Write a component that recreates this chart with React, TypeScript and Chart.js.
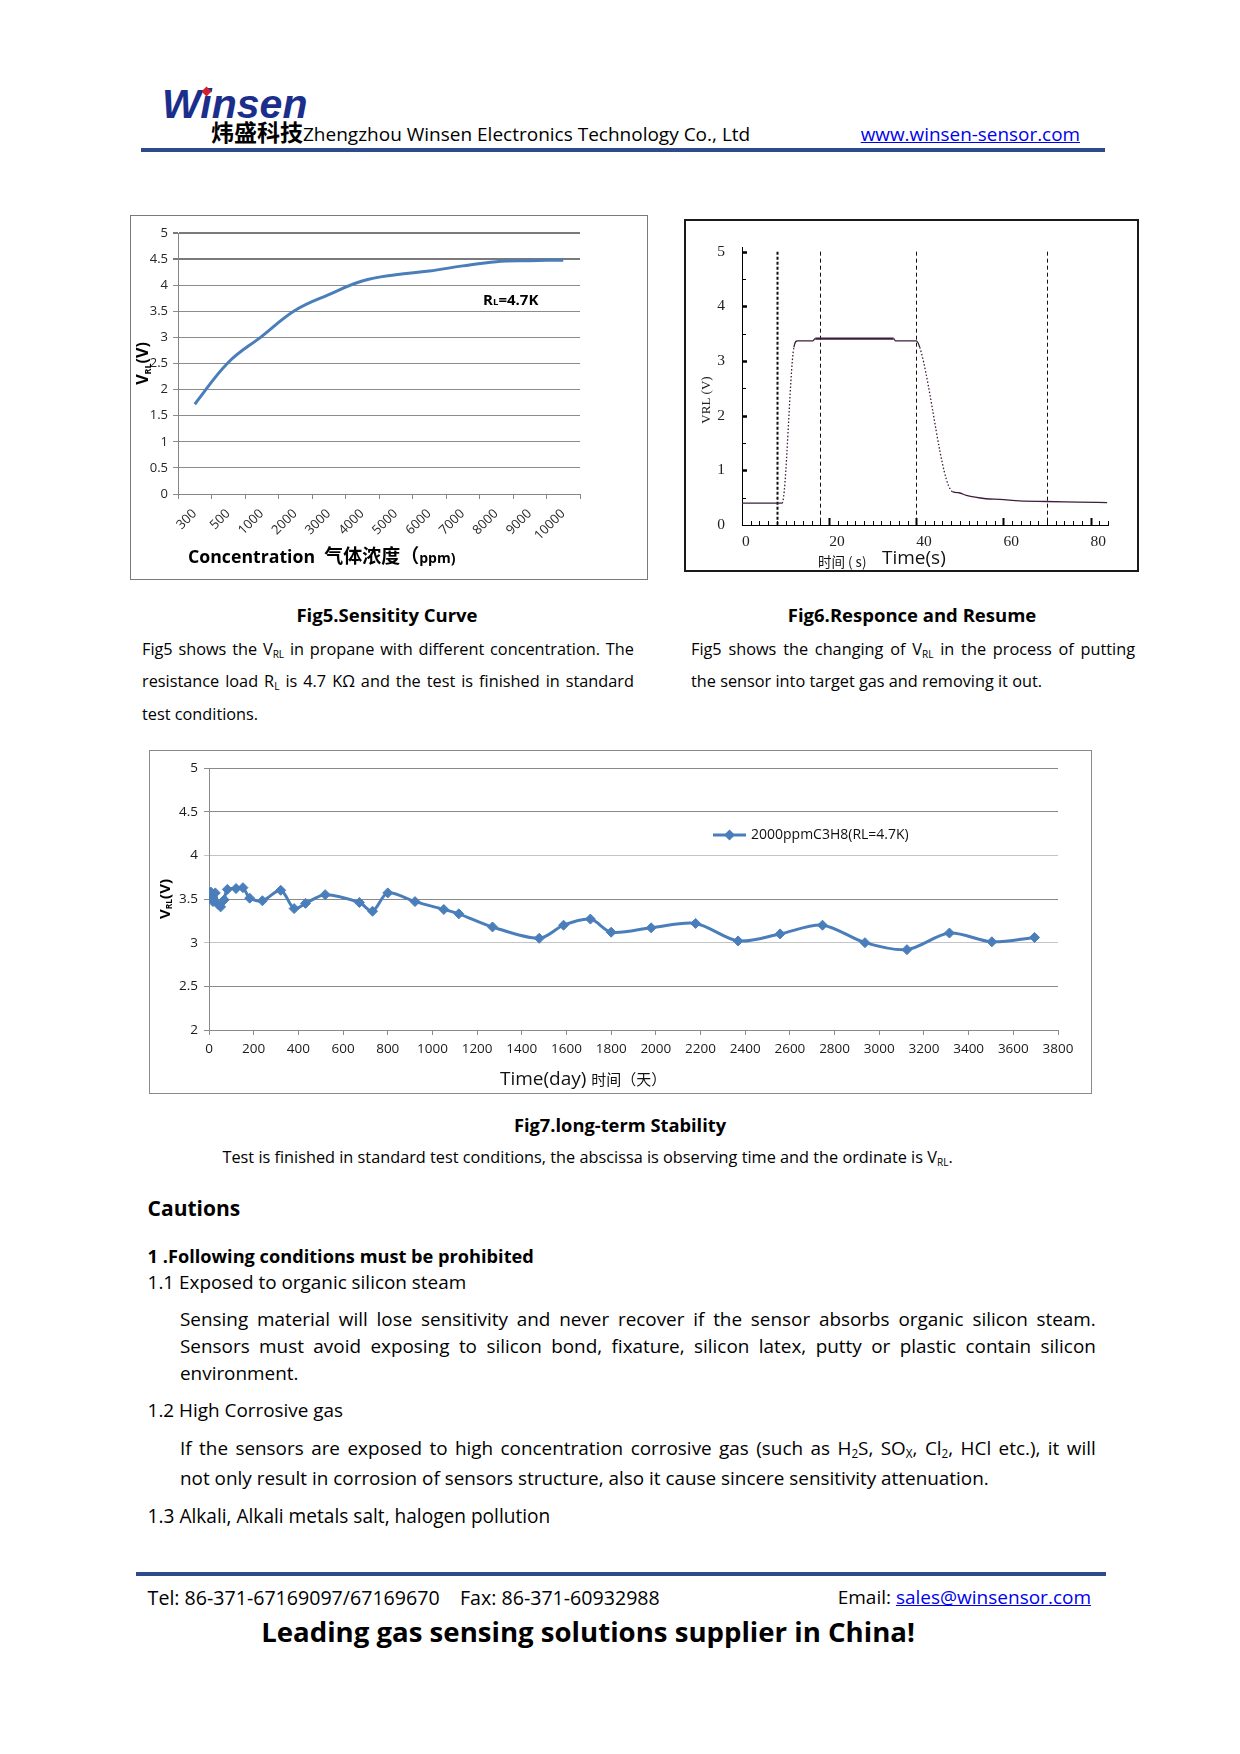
import React, { useEffect, useRef } from 'react';
import { Chart, registerables } from 'chart.js';

Chart.register(...registerables);

const SANS = '"Open Sans", "Noto Sans CJK SC", sans-serif';
const CJK = '"Noto Sans CJK SC", "Open Sans", sans-serif';
const SERIF = '"Liberation Serif", "DejaVu Serif", serif';
const LINE_BLUE = '#4a7ebb';

// ---------- Fig5 : sensitivity curve ----------
const concentrationLabels = ['300', '500', '1000', '2000', '3000', '4000', '5000', '6000', '7000', '8000', '9000', '10000'];
const sensitivityVoltage = [1.72, 2.52, 3.02, 3.52, 3.82, 4.08, 4.2, 4.27, 4.37, 4.45, 4.47, 4.48];

// ---------- Fig6 : response and resume ----------
const responseTime = [0, 9.2, 11.9, 12.7, 16.3, 16.8, 34.8, 35.2, 40, 40.8, 48.3, 49.8, 51.5, 56, 59.2, 63.7, 69.8, 77.1, 83.8];
const responseVoltage = [0.4, 0.4, 3.25, 3.37, 3.37, 3.41, 3.41, 3.37, 3.37, 3.25, 0.61, 0.59, 0.54, 0.48, 0.47, 0.44, 0.43, 0.42, 0.41];
const gasEventTimes = [8, 18, 40, 70];

// ---------- Fig7 : long-term stability ----------
const stabilityLabel = '2000ppmC3H8(RL=4.7K)';
const stabilityDays = [0, 8, 18, 28, 40, 52, 68, 82, 121, 152, 182, 239, 321, 381, 432, 520, 673, 732, 800, 922, 1051, 1118, 1269, 1478, 1587, 1707, 1800, 1979, 2178, 2368, 2556, 2746, 2936, 3124, 3314, 3504, 3695];
const stabilityVoltage = [3.5, 3.58, 3.47, 3.57, 3.44, 3.41, 3.49, 3.61, 3.62, 3.63, 3.51, 3.48, 3.6, 3.39, 3.45, 3.55, 3.46, 3.36, 3.57, 3.47, 3.38, 3.33, 3.18, 3.05, 3.2, 3.27, 3.12, 3.17, 3.22, 3.02, 3.1, 3.2, 3.0, 2.92, 3.11, 3.01, 3.06];

type Run = { t: string; size: number; bold?: boolean; family?: string; dy?: number };

function runFont(r: Run) {
  return `${r.bold ? 'bold ' : ''}${r.size}px ${r.family || SANS}`;
}

function drawRuns(ctx: any, runs: Run[], x: number, y: number, opts: { align?: string; rotate?: number; color?: string } = {}) {
  ctx.save();
  ctx.translate(x, y);
  if (opts.rotate) ctx.rotate(opts.rotate);
  ctx.fillStyle = opts.color || '#000';
  ctx.textBaseline = 'alphabetic';
  ctx.textAlign = 'left';
  let total = 0;
  const widths = runs.map((r) => {
    ctx.font = runFont(r);
    const w = ctx.measureText(r.t).width;
    total += w;
    return w;
  });
  let cx = opts.align === 'center' ? -total / 2 : 0;
  runs.forEach((r, i) => {
    ctx.font = runFont(r);
    ctx.fillText(r.t, cx, r.dy || 0);
    cx += widths[i];
  });
  ctx.restore();
}

const fig5Decor = {
  id: 'fig5Decor',
  afterDraw(chart: any) {
    const ctx = chart.ctx;
    const a = chart.chartArea;
    drawRuns(ctx, [
      { t: 'V', size: 16, bold: true },
      { t: 'RL', size: 9, bold: true, dy: 3 },
      { t: '(V)', size: 16, bold: true },
    ], 17, (a.top + a.bottom) / 2, { align: 'center', rotate: -Math.PI / 2 });
    drawRuns(ctx, [
      { t: 'Concentration  ', size: 17.7, bold: true },
      { t: '气体浓度（', size: 19, bold: true, family: CJK },
      { t: 'ppm)', size: 14, bold: true },
    ], 57, 347);
    drawRuns(ctx, [
      { t: 'R', size: 15, bold: true },
      { t: 'L', size: 9.5, bold: true },
      { t: '=4.7K', size: 15, bold: true },
    ], a.left + 0.759 * (a.right - a.left), 89);
  },
};

const fig6Decor = {
  id: 'fig6Decor',
  beforeDatasetsDraw(chart: any) {
    const { ctx } = chart;
    const x = chart.scales.x;
    const y = chart.scales.y;
    ctx.save();
    ctx.strokeStyle = '#111';
    gasEventTimes.forEach((t, i) => {
      const px = Math.round(x.getPixelForValue(t)) + 0.5;
      ctx.lineWidth = i === 0 ? 2 : 1;
      ctx.setLineDash(i === 0 ? [3, 2] : [4, 3]);
      ctx.beginPath();
      ctx.moveTo(px, y.getPixelForValue(5));
      ctx.lineTo(px, y.bottom);
      ctx.stroke();
    });
    ctx.setLineDash([]);
    ctx.strokeStyle = '#000';
    for (let v = 2; v <= x.max; v += 2) {
      const major = v % 20 === 0;
      const px = Math.round(x.getPixelForValue(v)) + 0.5;
      ctx.lineWidth = major ? 2 : 1;
      ctx.beginPath();
      ctx.moveTo(px, y.bottom);
      ctx.lineTo(px, y.bottom - (major ? 7 : 4));
      ctx.stroke();
    }
    for (let v = 0.5; v <= 5; v += 0.5) {
      const major = Number.isInteger(v);
      const py = Math.round(y.getPixelForValue(v)) + 0.5;
      ctx.lineWidth = major ? 2.5 : 1;
      ctx.beginPath();
      ctx.moveTo(x.left, py);
      ctx.lineTo(x.left + (major ? 5 : 4), py);
      ctx.stroke();
    }
    ctx.restore();
  },
  afterDraw(chart: any) {
    const ctx = chart.ctx;
    drawRuns(ctx, [{ t: 'VRL (V)', size: 13, family: SERIF }], 24, 179, { align: 'center', rotate: -Math.PI / 2, color: '#222' });
    drawRuns(ctx, [{ t: '时间 ( s)', size: 13.5, family: CJK }], 132, 346, { color: '#111' });
    drawRuns(ctx, [{ t: 'Time(s)', size: 19 }], 196, 343, { color: '#111' });
  },
};

const fig7Decor = {
  id: 'fig7Decor',
  afterDraw(chart: any) {
    const ctx = chart.ctx;
    const a = chart.chartArea;
    drawRuns(ctx, [
      { t: 'V', size: 15, bold: true },
      { t: 'RL', size: 8.5, bold: true, dy: 2 },
      { t: '(V)', size: 15, bold: true },
    ], 19.5, (a.top + a.bottom) / 2, { align: 'center', rotate: -Math.PI / 2 });
    drawRuns(ctx, [{ t: 'Time(day) ', size: 19 }, { t: '时间（天）', size: 15, family: CJK }], 350, 334, { color: '#111' });
    // legend
    const ds = chart.data.datasets[0];
    const ly = 84;
    const lx0 = 563;
    const lx1 = 596;
    ctx.save();
    ctx.strokeStyle = ds.borderColor;
    ctx.lineWidth = 3;
    ctx.beginPath();
    ctx.moveTo(lx0, ly);
    ctx.lineTo(lx1, ly);
    ctx.stroke();
    ctx.fillStyle = ds.borderColor;
    const cx = (lx0 + lx1) / 2;
    ctx.beginPath();
    ctx.moveTo(cx, ly - 5.5);
    ctx.lineTo(cx + 5.5, ly);
    ctx.lineTo(cx, ly + 5.5);
    ctx.lineTo(cx - 5.5, ly);
    ctx.closePath();
    ctx.fill();
    ctx.fillStyle = '#111';
    ctx.font = `14px ${SANS}`;
    ctx.textBaseline = 'middle';
    ctx.fillText(ds.label, 601, ly);
    ctx.restore();
  },
};

function makeFig5(): any {
  return {
    type: 'line',
    data: {
      labels: concentrationLabels,
      datasets: [{ data: sensitivityVoltage, borderColor: LINE_BLUE, borderWidth: 3, pointRadius: 0, tension: 0.4, fill: false }],
    },
    options: {
      responsive: false,
      animation: false,
      devicePixelRatio: 1,
      layout: { padding: { top: 17, right: 67, left: 0, bottom: 0 } },
      plugins: { legend: { display: false }, tooltip: { enabled: false } },
      scales: {
        x: {
          type: 'category',
          offset: true,
          grid: { offset: true, drawOnChartArea: false, drawTicks: true, tickLength: 5, color: '#868686' },
          border: { color: '#868686' },
          ticks: { autoSkip: false, minRotation: 45, maxRotation: 45, padding: 7, color: '#262626', font: { family: SANS, size: 13 } },
          afterFit: (s: any) => { s.height = 85; },
        },
        y: {
          min: 0,
          max: 5,
          ticks: { stepSize: 0.5, padding: 5, color: '#262626', font: { family: SANS, size: 13 }, callback: (v: any) => String(v) },
          grid: {
            color: (c: any) => (c.tick && c.tick.value >= 4.5 ? '#7a7a7a' : '#8c8c8c'),
            lineWidth: (c: any) => (c.tick && c.tick.value >= 4.5 ? 2 : 1),
            tickLength: 5,
          },
          border: { color: '#868686' },
          afterFit: (s: any) => { s.width = 47; },
        },
      },
    },
    plugins: [fig5Decor],
  };
}

function makeFig6(): any {
  const steep = (c: any) => Math.abs((c.p1.parsed.y - c.p0.parsed.y) / (c.p1.parsed.x - c.p0.parsed.x || 1)) > 0.3;
  return {
    type: 'line',
    data: {
      datasets: [{
        data: responseTime.map((t, i) => ({ x: t, y: responseVoltage[i] })),
        borderColor: '#3c1e3c',
        borderWidth: 1.3,
        pointRadius: 0,
        cubicInterpolationMode: 'monotone',
        fill: false,
        segment: {
          borderDash: (c: any) => (steep(c) ? [1.5, 2] : undefined),
          borderWidth: (c: any) => (c.p0.parsed.y > 3.39 && c.p1.parsed.y > 3.39 ? 2.2 : 1.3),
        },
      }],
    },
    options: {
      responsive: false,
      animation: false,
      devicePixelRatio: 1,
      layout: { padding: { top: 22, right: 29, left: 0, bottom: 0 } },
      plugins: { legend: { display: false }, tooltip: { enabled: false } },
      scales: {
        x: {
          type: 'linear',
          min: 0,
          max: 84,
          grid: { display: false, drawTicks: false },
          border: { display: true, color: '#000', width: 1 },
          ticks: { stepSize: 20, includeBounds: false, align: 'start', padding: 8, maxRotation: 0, color: '#222', font: { family: SERIF, size: 15.5 } },
          afterFit: (s: any) => { s.height = 45; },
        },
        y: {
          min: 0,
          max: 5.08,
          grid: { display: false, drawTicks: false },
          border: { display: true, color: '#000', width: 1 },
          ticks: { stepSize: 1, includeBounds: false, padding: 17, color: '#222', font: { family: SERIF, size: 15.5 } },
          afterFit: (s: any) => { s.width = 56; },
        },
      },
    },
    plugins: [fig6Decor],
  };
}

function makeFig7(): any {
  return {
    type: 'line',
    data: {
      datasets: [{
        label: stabilityLabel,
        data: stabilityDays.map((d, i) => ({ x: d, y: stabilityVoltage[i] })),
        borderColor: LINE_BLUE,
        backgroundColor: LINE_BLUE,
        borderWidth: 3,
        pointStyle: 'rectRot',
        pointRadius: 5,
        pointBorderWidth: 1,
        pointBackgroundColor: LINE_BLUE,
        pointBorderColor: LINE_BLUE,
        tension: 0.3,
        fill: false,
      }],
    },
    options: {
      responsive: false,
      animation: false,
      devicePixelRatio: 1,
      layout: { padding: { top: 17, right: 33, left: 0, bottom: 0 } },
      plugins: { legend: { display: false }, tooltip: { enabled: false } },
      scales: {
        x: {
          type: 'linear',
          min: 0,
          max: 3800,
          grid: { drawOnChartArea: false, tickLength: 5, color: '#8a8a8a' },
          border: { color: '#8a8a8a' },
          ticks: { stepSize: 200, autoSkip: false, maxRotation: 0, padding: 6, color: '#1a1a1a', font: { family: SANS, size: 13.5 }, callback: (v: any) => String(v) },
          afterFit: (s: any) => { s.height = 63; },
        },
        y: {
          min: 2,
          max: 5,
          grid: {
            color: (c: any) => (c.tick && (c.tick.value === 3 || c.tick.value === 4) ? '#c4c4c4' : '#8a8a8a'),
            tickLength: 5,
          },
          border: { color: '#8a8a8a' },
          ticks: { stepSize: 0.5, padding: 6, color: '#1a1a1a', font: { family: SANS, size: 13.5 }, callback: (v: any) => String(v) },
          afterFit: (s: any) => { s.width = 59; },
        },
      },
    },
    plugins: [fig7Decor],
  };
}

function ChartCanvas({ left, top, width, height, make }: any) {
  const ref = useRef<HTMLCanvasElement | null>(null);
  useEffect(() => {
    const chart = new Chart(ref.current as HTMLCanvasElement, make());
    return () => chart.destroy();
  }, []);
  return <canvas ref={ref} width={width} height={height} style={{ position: 'absolute', left, top, width, height }} />;
}

function rich(s: string) {
  const parts = s.split(/(_\{[^}]*\})/);
  return parts.map((p, i) =>
    p.startsWith('_{') ? (
      <span key={i} style={{ fontSize: '0.62em', position: 'relative', top: '0.3em' }}>{p.slice(2, -1)}</span>
    ) : (
      <React.Fragment key={i}>{p}</React.Fragment>
    )
  );
}

const TOP_K = 0.61;

function Txt({ x, y, fs, bold, color, align, family, children, text }: any) {
  const style: any = {
    position: 'absolute',
    top: y - TOP_K * fs,
    fontSize: fs,
    lineHeight: `${1.362 * fs}px`,
    fontWeight: bold ? 700 : 400,
    whiteSpace: 'pre',
    color: color || '#000',
    fontFamily: family || SANS,
  };
  if (align === 'center') {
    style.left = x;
    style.transform = 'translateX(-50%)';
  } else if (align === 'right') {
    style.right = 1240 - x;
  } else {
    style.left = x;
  }
  return <div style={style}>{text !== undefined ? rich(text) : children}</div>;
}

function JLine({ x, y, fs, w, text }: any) {
  const words = text.split(' ');
  return (
    <div
      style={{
        position: 'absolute',
        left: x,
        top: y - TOP_K * fs,
        width: w,
        fontSize: fs,
        lineHeight: `${1.362 * fs}px`,
        display: 'flex',
        justifyContent: 'space-between',
        whiteSpace: 'nowrap',
        fontFamily: SANS,
        color: '#000',
      }}
    >
      {words.map((wd: string, i: number) => (
        <span key={i}>{rich(wd)}</span>
      ))}
    </div>
  );
}

const linkStyle: any = { color: '#0000ee', textDecoration: 'underline' };

export default function App() {
  return (
    <div style={{ position: 'absolute', left: 0, top: 0, width: 1240, height: 1754, background: '#fff', fontFamily: SANS, overflow: 'hidden' }}>
      {/* header */}
      <div style={{ position: 'absolute', left: 162, top: 105 - 0.68 * 41, fontSize: 41, lineHeight: `${1.362 * 41}px`, fontFamily: '"Liberation Sans", Arial, sans-serif', fontWeight: 700, fontStyle: 'italic', color: '#1c2e8c', whiteSpace: 'pre' }}>
        Winsen
      </div>
      <div style={{ position: 'absolute', left: 203, top: 88, width: 7, height: 7, background: '#d4202a', transform: 'rotate(45deg)' }} />
      <Txt x={211} y={131} fs={19}>
        <span style={{ fontFamily: CJK, fontWeight: 700, fontSize: 23 }}>炜盛科技</span>Zhengzhou Winsen Electronics Technology Co., Ltd
      </Txt>
      <Txt x={1080} y={134} fs={18.9} align="right"><span style={linkStyle}>www.winsen-sensor.com</span></Txt>
      <div style={{ position: 'absolute', left: 141, top: 148, width: 964, height: 4, background: '#2d4a8a' }} />

      {/* Fig5 */}
      <div style={{ position: 'absolute', left: 130, top: 215, width: 518, height: 365, boxSizing: 'border-box', border: '1px solid #7a7a7a' }} />
      <ChartCanvas left={131} top={216} width={516} height={363} make={makeFig5} />

      {/* Fig6 */}
      <div style={{ position: 'absolute', left: 684, top: 219, width: 455, height: 353, boxSizing: 'border-box', border: '2px solid #1a1a1a' }} />
      <ChartCanvas left={686} top={221} width={451} height={349} make={makeFig6} />

      <Txt x={387} y={613.5} fs={18.5} bold align="center" text="Fig5.Sensitity Curve" />
      <Txt x={912} y={613.5} fs={18.5} bold align="center" text="Fig6.Responce and Resume" />

      <JLine x={142} y={647.5} fs={16.3} w={492} text="Fig5 shows the V_{RL} in propane with different concentration. The" />
      <JLine x={142} y={680} fs={16.3} w={492} text="resistance load R_{L} is 4.7 KΩ and the test is finished in standard" />
      <Txt x={142} y={712.5} fs={16.3} text="test conditions." />

      <JLine x={691} y={647.5} fs={16.3} w={444} text="Fig5 shows the changing of V_{RL} in the process of putting" />
      <Txt x={691} y={680} fs={16.3} text="the sensor into target gas and removing it out." />

      {/* Fig7 */}
      <div style={{ position: 'absolute', left: 149, top: 750, width: 943, height: 344, boxSizing: 'border-box', border: '1px solid #8a8a8a' }} />
      <ChartCanvas left={150} top={751} width={941} height={342} make={makeFig7} />

      <Txt x={620} y={1124} fs={18.3} bold align="center" text="Fig7.long-term Stability" />
      <Txt x={222.5} y={1155.5} fs={16.3} text="Test is finished in standard test conditions, the abscissa is observing time and the ordinate is V_{RL}." />

      {/* Cautions */}
      <Txt x={147.6} y={1207} fs={21} bold text="Cautions" />
      <Txt x={147.6} y={1255} fs={18.2} bold text="1 .Following conditions must be prohibited" />
      <Txt x={147.6} y={1282} fs={18.9} text="1.1 Exposed to organic silicon steam" />
      <JLine x={180} y={1319} fs={18.9} w={916} text="Sensing material will lose sensitivity and never recover if the sensor absorbs organic silicon steam." />
      <JLine x={180} y={1346} fs={18.9} w={916} text="Sensors must avoid exposing to silicon bond, fixature, silicon latex, putty or plastic contain silicon" />
      <Txt x={180} y={1372.5} fs={18.9} text="environment." />
      <Txt x={147.6} y={1409.5} fs={18.9} text="1.2 High Corrosive gas" />
      <JLine x={180} y={1447.5} fs={18.9} w={916} text="If the sensors are exposed to high concentration corrosive gas (such as H_{2}S, SO_{X}, Cl_{2}, HCl etc.), it will" />
      <Txt x={180} y={1477.5} fs={18.9} text="not only result in corrosion of sensors structure, also it cause sincere sensitivity attenuation." />
      <Txt x={147.6} y={1514.5} fs={19.1} text="1.3 Alkali, Alkali metals salt, halogen pollution" />

      {/* footer */}
      <div style={{ position: 'absolute', left: 136, top: 1572, width: 970, height: 4, background: '#2d4a8a' }} />
      <Txt x={147.6} y={1597} fs={19.6} text="Tel: 86-371-67169097/67169670    Fax: 86-371-60932988" />
      <Txt x={1091} y={1597} fs={19} align="right">
        Email: <span style={linkStyle}>sales@winsensor.com</span>
      </Txt>
      <Txt x={588} y={1629.5} fs={27.6} bold align="center" text="Leading gas sensing solutions supplier in China!" />
    </div>
  );
}
